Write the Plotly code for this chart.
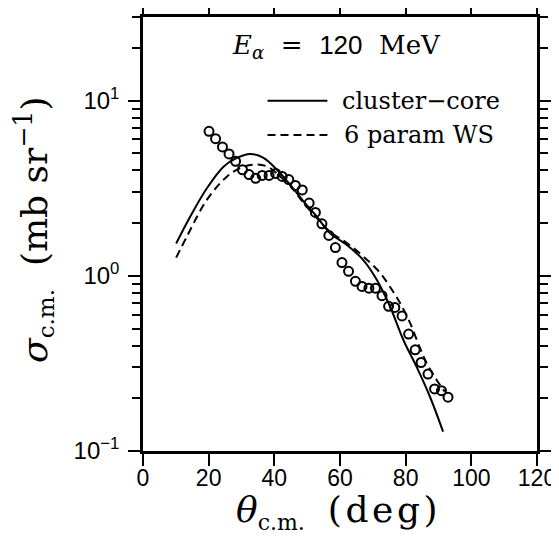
import plotly.graph_objects as go

# ---- data ----
theta_data = [20.1, 22.1, 24.2, 26.2, 28.2, 30.3, 32.3, 34.3, 36.3, 38.4,
              40.4, 42.4, 44.4, 46.4, 48.5, 50.6, 52.5, 54.5, 56.6, 58.6,
              60.6, 62.6, 64.7, 66.7, 68.8, 70.8, 72.8, 74.8, 76.7, 78.9,
              80.9, 82.9, 84.7, 86.8, 88.8, 90.9, 92.9]
sigma_data = [6.68, 6.06, 5.44, 4.96, 4.50, 4.03, 3.78, 3.60, 3.74, 3.74,
              3.84, 3.69, 3.54, 3.28, 3.09, 2.60, 2.30, 1.98, 1.70, 1.45,
              1.19, 1.06, 0.93, 0.87, 0.85, 0.85, 0.77, 0.67, 0.66, 0.59,
              0.465, 0.378, 0.320, 0.275, 0.226, 0.221, 0.203]

theta_cc = [10.1, 14.4, 19.5, 24.6, 28.6, 32.7, 36.7, 40.8, 44.8, 48.9,
            52.9, 57.0, 62.1, 67.1, 71.2, 75.2, 79.3, 83.3, 87.4, 91.4]
sigma_cc = [1.53, 2.18, 3.17, 4.21, 4.71, 4.96, 4.71, 4.03, 3.31, 2.66,
            2.18, 1.75, 1.50, 1.23, 0.95, 0.67, 0.43, 0.303, 0.204, 0.129]

theta_ws = [10.1, 13.4, 19.5, 25.6, 29.6, 33.7, 37.8, 41.8, 44.8, 48.9,
            52.9, 57.0, 62.1, 67.1, 72.2, 76.2, 78.3, 81.3, 84.3, 86.4,
            89.4, 91.9]
sigma_ws = [1.27, 1.68, 2.72, 3.69, 4.12, 4.31, 4.21, 3.69, 3.27, 2.61,
            2.14, 1.78, 1.54, 1.29, 1.04, 0.81, 0.70, 0.54, 0.39, 0.317,
            0.255, 0.218]

x_ticks = [0, 20, 40, 60, 80, 100, 120]
y_ticks = [0.1, 1, 10]
y_ticktext = ["10<sup>\u22121</sup>", "10<sup>0</sup>", "10<sup>1</sup>"]
legend_labels = ["cluster\u2212core", "6 param WS"]

SERIF = "DejaVu Serif"
SANS = "Liberation Sans, Arial, sans-serif"
HS = "\u200a"   # hair space used as light letter spacing

fig = go.Figure()
fig.add_trace(go.Scatter(x=theta_cc, y=sigma_cc, mode="lines",
                         line=dict(color="black", width=2), showlegend=False,
                         line_shape="spline"))
fig.add_trace(go.Scatter(x=theta_ws, y=sigma_ws, mode="lines",
                         line=dict(color="black", width=2, dash="8px,5px"),
                         showlegend=False, line_shape="spline"))
fig.add_trace(go.Scatter(x=theta_data, y=sigma_data, mode="markers",
                         marker=dict(symbol="circle-open", size=9, color="black",
                                     line=dict(width=2, color="black")),
                         showlegend=False))

axis_common = dict(showline=True, linewidth=2.5, linecolor="black", mirror="ticks",
                   ticks="outside", ticklen=12, tickwidth=2, tickcolor="black",
                   showgrid=False, zeroline=False, automargin=False)

fig.update_xaxes(range=[0, 120], tickvals=x_ticks, ticklabelstandoff=-7,
                 tickfont=dict(family=SANS, size=23, color="black"), **axis_common)
fig.update_yaxes(type="log", range=[-1, 1.4771], tickvals=y_ticks, ticktext=y_ticktext,
                 ticklabelstandoff=4, tickfont=dict(family=SANS, size=24, color="black"),
                 minor=dict(ticks="outside", ticklen=8, tickwidth=2, tickcolor="black",
                            dtick="D1"),
                 **axis_common)

# legend (drawn as layout decoration)
fig.add_shape(type="line", xref="paper", yref="paper", x0=0.316, x1=0.468, y0=0.807, y1=0.807,
              line=dict(color="black", width=2))
fig.add_shape(type="line", xref="paper", yref="paper", x0=0.316, x1=0.468, y0=0.728, y1=0.728,
              line=dict(color="black", width=2, dash="8px,5px"))
fig.add_annotation(xref="paper", yref="paper", x=0.50, y=0.807, xanchor="left", yanchor="middle",
                   text=legend_labels[0], showarrow=False,
                   font=dict(family=SERIF, size=24, color="black"))
fig.add_annotation(xref="paper", yref="paper", x=0.505, y=0.728, xanchor="left", yanchor="middle",
                   text=legend_labels[1], showarrow=False,
                   font=dict(family=SERIF, size=24, color="black"))

# energy label
fig.add_annotation(xref="paper", yref="paper", x=0.491, y=0.931, xanchor="center", yanchor="middle",
                   text=("<i>E</i><sub><i>\u03b1</i></sub>\u00a0\u00a0=\u00a0\u00a0"
                         "<span style=\"font-family:Liberation Sans\">120</span>\u00a0\u00a0MeV"),
                   showarrow=False, font=dict(family=SERIF, size=26, color="black"))

# axis titles
x_title = ("<i>\u03b8</i><sub><span style=\"font-size:22px\">c.m.</span></sub>\u00a0\u00a0"
           + HS.join("(deg)"))
fig.add_annotation(xref="paper", yref="paper", x=0.493, y=-0.14, xanchor="center", yanchor="middle",
                   text=x_title, showarrow=False,
                   font=dict(family=SERIF, size=36, color="black"))
y_title = ("<i>\u03c3</i><sub><span style=\"font-size:23px\">c.m.</span></sub>\u00a0\u00a0"
           "(mb\u00a0sr<sup>\u22121</sup>)")
fig.add_annotation(xref="paper", yref="paper", x=-0.276, y=0.51, xanchor="center", yanchor="middle",
                   textangle=-90, text=y_title, showarrow=False,
                   font=dict(family=SERIF, size=36, color="black"))

# the page body adds an 8px offset, so the margins are shifted to compensate
fig.update_layout(width=559, height=554, plot_bgcolor="white", paper_bgcolor="white",
                  margin=dict(l=134.5, r=30, t=9, b=111, autoexpand=False), showlegend=False)

fig.write_html("out.html")
